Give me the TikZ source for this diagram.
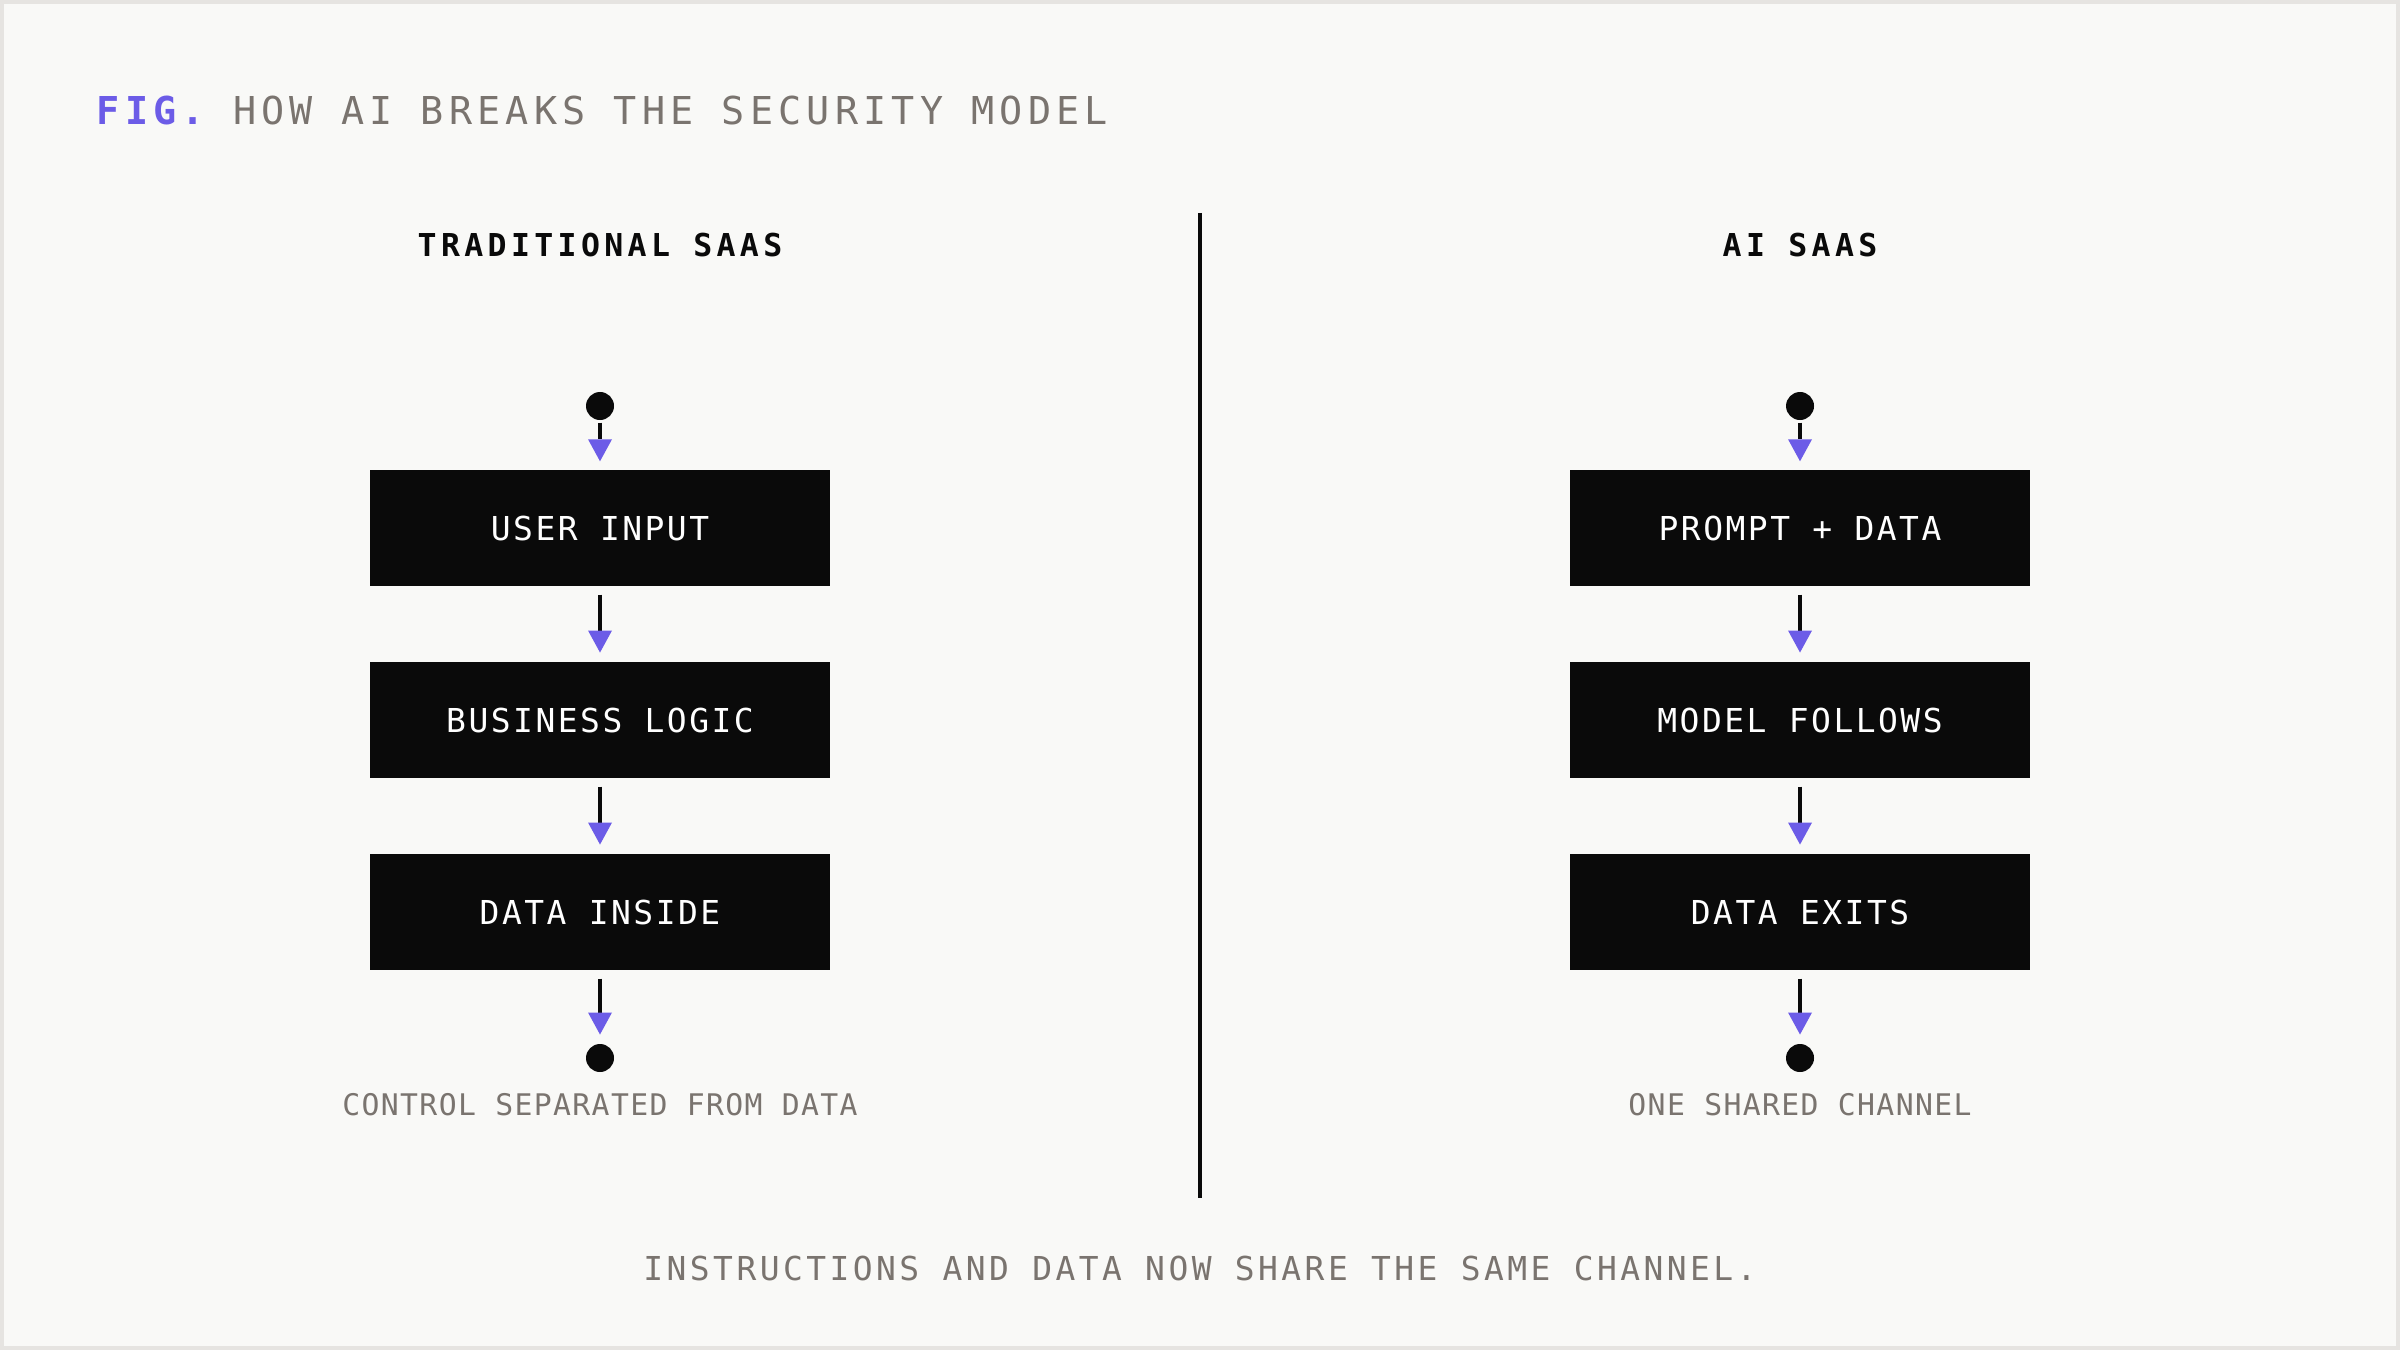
\documentclass[tikz,border=0pt]{standalone}
\usepackage{fontspec}
\setmonofont{DejaVu Sans Mono}
\newfontfamily\boxfam[LetterSpace=7.6]{DejaVu Sans Mono}
\newfontfamily\headfam[LetterSpace=13.8]{DejaVu Sans Mono}
\newfontfamily\titlefam[LetterSpace=13.5]{DejaVu Sans Mono}
\newfontfamily\botfam[LetterSpace=10.5]{DejaVu Sans Mono}
\newfontfamily\labfam[LetterSpace=4.6]{DejaVu Sans Mono}
\usetikzlibrary{arrows.meta}
\definecolor{bgc}{HTML}{F9F9F7}
\definecolor{framec}{HTML}{E6E4E1}
\definecolor{ink}{HTML}{0A0A0A}
\definecolor{accent}{HTML}{6C5CE7}
\definecolor{muted}{HTML}{7A746F}
\begin{document}
\begin{tikzpicture}[x=0.284528pt, y=-0.284528pt,
  flowbox/.style={fill=ink, minimum width=130.88pt, minimum height=33.0pt, inner sep=0pt,
    text=white, font=\boxfam\fontsize{9.37pt}{11pt}\selectfont, text height=6.83pt, text depth=0pt},
  flowdot/.style={circle, fill=ink, minimum size=7.97pt, inner sep=0pt},
  conn/.style={draw=ink, line width=1.14pt,
    -{Triangle[width=6.83pt,length=6.26pt,color=accent,fill=accent,line width=0pt]}},
  fromdot/.style={shorten <=0.57pt, shorten >=2.28pt},
  frombox/.style={shorten <=2.28pt, shorten >=2.5pt},
  header/.style={anchor=base, text=ink, font=\headfam\bfseries\fontsize{8.97pt}{11pt}\selectfont, inner sep=0pt},
  caption/.style={anchor=base, text=muted, font=\labfam\fontsize{8.47pt}{10pt}\selectfont, inner sep=0pt}
]
% background and frame
\fill[framec] (0,0) rectangle (2400,1350);
\fill[bgc] (4,4) rectangle (2396,1346);

% title
\node[anchor=base west, inner sep=0pt, text=muted, font=\titlefam\fontsize{10.93pt}{13pt}\selectfont]
  (title) at (96,124.5) {{\color{accent}\bfseries FIG.} HOW AI BREAKS THE SECURITY MODEL};

% divider
\draw[ink, line width=1.14pt] (1200,213) -- (1200,1198);

% left column
\node[header] (lhead) at (600,256) {TRADITIONAL SAAS};
\node[flowdot] (l0) at (600,406) {};
\node[flowbox] (l1) at (600,528) {USER INPUT};
\node[flowbox] (l2) at (600,720) {BUSINESS LOGIC};
\node[flowbox] (l3) at (600,912) {DATA INSIDE};
\node[flowdot] (l4) at (600,1058) {};
\node[caption] (lcap) at (600,1115) {CONTROL SEPARATED FROM DATA};
\draw[conn, fromdot] (l0) -- (l1);
\draw[conn, frombox] (l1) -- (l2);
\draw[conn, frombox] (l2) -- (l3);
\draw[conn, frombox] (l3) -- (l4);

% right column
\node[header] (rhead) at (1800,256) {AI SAAS};
\node[flowdot] (r0) at (1800,406) {};
\node[flowbox] (r1) at (1800,528) {PROMPT + DATA};
\node[flowbox] (r2) at (1800,720) {MODEL FOLLOWS};
\node[flowbox] (r3) at (1800,912) {DATA EXITS};
\node[flowdot] (r4) at (1800,1058) {};
\node[caption] (rcap) at (1800,1115) {ONE SHARED CHANNEL};
\draw[conn, fromdot] (r0) -- (r1);
\draw[conn, frombox] (r1) -- (r2);
\draw[conn, frombox] (r2) -- (r3);
\draw[conn, frombox] (r3) -- (r4);

% bottom statement
\node[anchor=base, inner sep=0pt, text=muted, font=\botfam\fontsize{9.37pt}{11pt}\selectfont]
  (bottom) at (1200,1280) {INSTRUCTIONS AND DATA NOW SHARE THE SAME CHANNEL.};
\end{tikzpicture}
\end{document}
